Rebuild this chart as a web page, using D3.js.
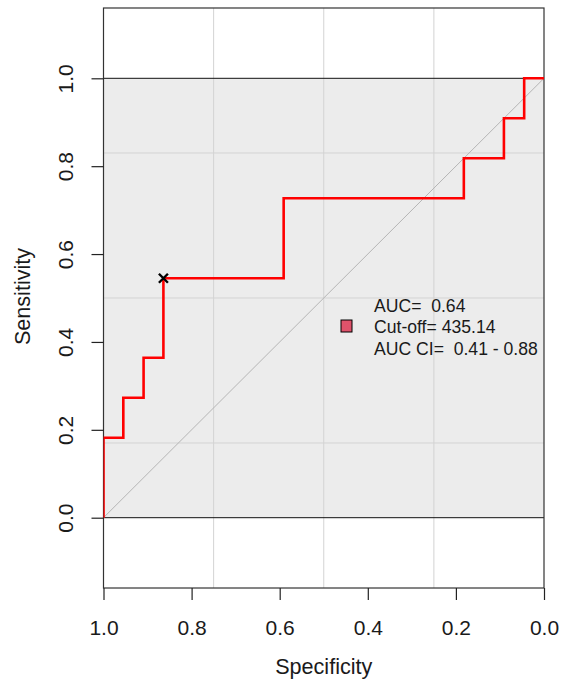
<!DOCTYPE html>
<html><head><meta charset="utf-8">
<script src="https://cdn.jsdelivr.net/npm/d3@7"></script>
<style>body{margin:0;background:#fff}svg{display:block}</style>
</head><body>
<svg id="c" width="565" height="680"></svg>
<script>
// ROC curve vertices (specificity, sensitivity)
const specificity = [1.000, 1.000, 0.955, 0.955, 0.909, 0.909, 0.864, 0.864, 0.591, 0.591, 0.182, 0.182, 0.091, 0.091, 0.045, 0.045, 0.000];
const sensitivity = [0.000, 0.182, 0.182, 0.273, 0.273, 0.364, 0.364, 0.545, 0.545, 0.727, 0.727, 0.818, 0.818, 0.909, 0.909, 1.000, 1.000];
const bestPoint = {specificity: 0.864, sensitivity: 0.545};
const xTicks = [1.0, 0.8, 0.6, 0.4, 0.2, 0.0];
const yTicks = [0.0, 0.2, 0.4, 0.6, 0.8, 1.0];
const gridX = [0.75, 0.5, 0.25];
const gridY = [0.17, 0.5, 0.83];
const legendLines = ["AUC=  0.64", "Cut-off= 435.14", "AUC CI=  0.41 - 0.88"];
const xTitle = "Specificity", yTitle = "Sensitivity";

const font = "'Liberation Sans', Arial, sans-serif";
const svg = d3.select("#c");
const x = d3.scaleLinear().domain([1, 0]).range([103.5, 544]);
const y = d3.scaleLinear().domain([0, 1]).range([517.7, 78.3]);
const yMin = -0.16, yMax = 1.16;

svg.append("defs").append("clipPath").attr("id", "clip")
  .append("rect").attr("x", x(1)).attr("y", y(yMax))
  .attr("width", x(0) - x(1)).attr("height", y(yMin) - y(yMax));

// max AUC polygon
svg.append("rect").attr("x", x(1)).attr("y", y(1))
  .attr("width", x(0) - x(1)).attr("height", y(0) - y(1)).attr("fill", "#ececec");

// grid
svg.append("g").selectAll("line").data(gridX).join("line")
  .attr("x1", d => x(d)).attr("x2", d => x(d)).attr("y1", y(yMax)).attr("y2", y(yMin))
  .attr("stroke", "#d3d3d3").attr("stroke-width", 1);
svg.append("g").selectAll("line").data(gridY).join("line")
  .attr("x1", x(1)).attr("x2", x(0)).attr("y1", d => y(d)).attr("y2", d => y(d))
  .attr("stroke", "#d3d3d3").attr("stroke-width", 1);

// polygon border lines
svg.append("g").selectAll("line").data([0, 1]).join("line")
  .attr("x1", x(1)).attr("x2", x(0)).attr("y1", d => y(d)).attr("y2", d => y(d))
  .attr("stroke", "#111").attr("stroke-width", 1);

// diagonal
svg.append("line").attr("x1", x(1)).attr("y1", y(0)).attr("x2", x(0)).attr("y2", y(1))
  .attr("stroke", "#b5b5b5").attr("stroke-width", 1);

// box
svg.append("rect").attr("x", x(1)).attr("y", y(yMax))
  .attr("width", x(0) - x(1)).attr("height", y(yMin) - y(yMax))
  .attr("fill", "none").attr("stroke", "#333").attr("stroke-width", 1.2);

// ROC curve
const pts = specificity.map((s, i) => [s, sensitivity[i]]);
svg.append("path").attr("clip-path", "url(#clip)")
  .attr("d", d3.line().x(d => x(d[0])).y(d => y(d[1]))(pts))
  .attr("fill", "none").attr("stroke", "#ff0000").attr("stroke-width", 2.6)
  .attr("stroke-linejoin", "miter");

// best threshold marker (cross)
const bx = x(bestPoint.specificity), by = y(bestPoint.sensitivity), r = 4.5;
svg.append("path")
  .attr("d", `M${bx - r},${by - r}L${bx + r},${by + r}M${bx - r},${by + r}L${bx + r},${by - r}`)
  .attr("stroke", "#000").attr("stroke-width", 2.4);

// legend
svg.append("rect").attr("x", 341).attr("y", 320).attr("width", 11).attr("height", 12)
  .attr("fill", "#DF536B").attr("stroke", "#000").attr("stroke-width", 1);
svg.append("g").selectAll("text").data(legendLines).join("text")
  .attr("x", 374).attr("y", (d, i) => 311.5 + i * 21.5)
  .attr("font-family", font).attr("font-size", 17.6).attr("fill", "#1a1a1a")
  .style("white-space", "pre").text(d => d);

// axes
const fmt = d3.format(".1f");
const gx = svg.append("g").attr("transform", `translate(0,${y(yMin)})`)
  .call(d3.axisBottom(x).tickValues(xTicks).tickSize(12).tickFormat(fmt));
gx.select(".domain").remove();
gx.selectAll(".tick line").attr("stroke", "#222").attr("stroke-width", 1.2);
gx.selectAll(".tick text").attr("y", 47).attr("dy", 0)
  .attr("font-family", font).attr("font-size", 21).attr("fill", "#1a1a1a");

const gy = svg.append("g").attr("transform", `translate(${x(1)},0)`)
  .call(d3.axisLeft(y).tickValues(yTicks).tickSize(12).tickFormat(fmt));
gy.select(".domain").remove();
gy.selectAll(".tick line").attr("stroke", "#222").attr("stroke-width", 1.2);
gy.selectAll(".tick text").attr("x", 0).attr("dy", 0)
  .attr("text-anchor", "middle")
  .attr("transform", "translate(-31,0) rotate(-90)")
  .attr("font-family", font).attr("font-size", 21).attr("fill", "#1a1a1a");

svg.append("text").attr("x", (x(1) + x(0)) / 2).attr("y", 674)
  .attr("text-anchor", "middle").attr("font-family", font).attr("font-size", 21.6)
  .attr("fill", "#1a1a1a").text(xTitle);
svg.append("text").attr("transform", `translate(29.5,296.5) rotate(-90)`)
  .attr("text-anchor", "middle").attr("font-family", font).attr("font-size", 21.6)
  .attr("fill", "#1a1a1a").text(yTitle);
</script>
</body></html>
